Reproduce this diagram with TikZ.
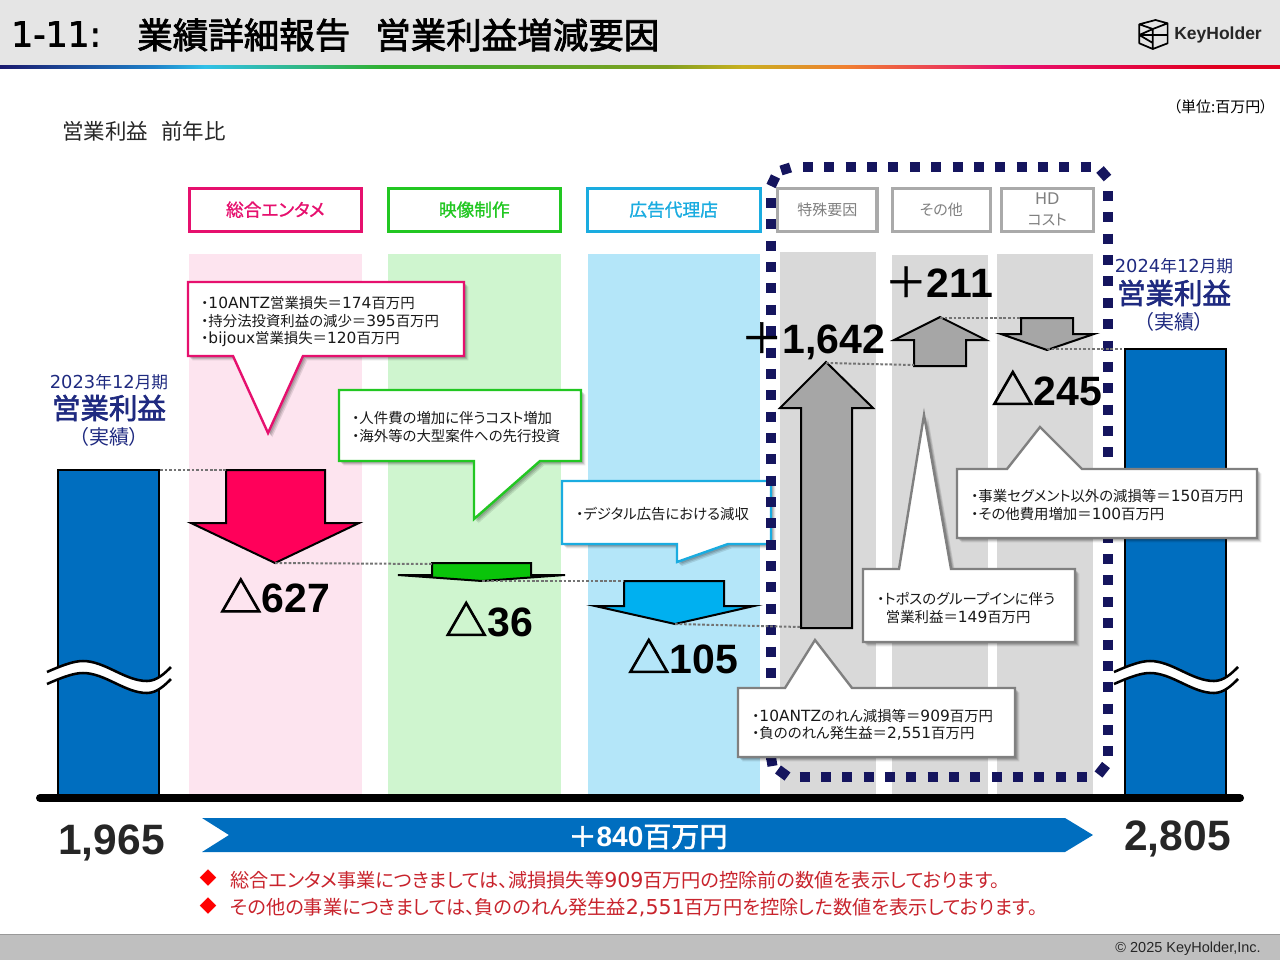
\documentclass[tikz,border=0pt]{standalone}
\usepackage{fontspec}
\usetikzlibrary{shadows}
\setmainfont{Noto Sans CJK JP}[RawFeature=+palt]
\newfontfamily\numf{Liberation Sans}
\newfontfamily\cjkf{Noto Sans CJK JP}
\newfontfamily\latf{DejaVu Sans}[Scale=1.07]
\newfontfamily\titlelat{DejaVu Sans}[FakeBold=2]
\newfontfamily\medf{Noto Sans CJK JP}[RawFeature=+palt,FakeBold=2.2]
\newfontfamily\lightbf{Noto Sans CJK JP}[RawFeature=+palt,FakeBold=1.2]
\newfontfamily\triaf{Noto Sans CJK JP}[FakeBold=2.5]
\newfontfamily\plusf{Noto Sans CJK JP}[FakeBold=1]
\newcommand{\la}[1]{{\latf #1}}
\newcommand{\fpx}[2]{\fontsize{\dimexpr #1pt*3/4\relax}{\dimexpr #2pt*3/4\relax}\selectfont}
\newcommand{\minusv}[1]{{\fpx{42}{46}\triaf △}{\fpx{41}{46}\numf\bfseries #1}}
\newcommand{\plusv}[1]{{\fpx{42}{46}\plusf ＋}{\fpx{41}{46}\numf\bfseries #1}}
\definecolor{rb0}{HTML}{1A1A6E}
\definecolor{rb1}{HTML}{1E80C8}
\definecolor{rb2}{HTML}{30C0E8}
\definecolor{rb3}{HTML}{30B030}
\definecolor{rb4}{HTML}{80A020}
\definecolor{rb5}{HTML}{C8B020}
\definecolor{rb6}{HTML}{F08030}
\definecolor{rb7}{HTML}{E81070}
\definecolor{rb8}{HTML}{E00020}
\pgfdeclarehorizontalshading{rainbowline}{100bp}{
 color(0bp)=(rb0);
 color(25bp)=(rb0);
 color(31bp)=(rb1);
 color(33bp)=(rb2);
 color(40bp)=(rb3);
 color(51bp)=(rb4);
 color(54bp)=(rb5);
 color(58bp)=(rb6);
 color(64.5bp)=(rb7);
 color(72.5bp)=(rb8);
 color(100bp)=(rb8)}
\definecolor{cpink}{HTML}{E6106E}
\definecolor{cgreen}{HTML}{22C722}
\definecolor{cblue}{HTML}{1AACE0}
\definecolor{cgrayb}{HTML}{AAAAAA}
\definecolor{cgraye}{HTML}{808080}
\definecolor{navy}{HTML}{15155E}
\definecolor{ctitle}{HTML}{1F2A80}
\definecolor{barb}{HTML}{006EBF}
\definecolor{cnote}{HTML}{C8232C}
\definecolor{colpink}{HTML}{FDE4EF}
\definecolor{colgreen}{HTML}{CFF5CF}
\definecolor{colblue}{HTML}{B4E6F9}
\definecolor{arrpink}{HTML}{FF005A}
\definecolor{arrgreen}{HTML}{0AC40A}
\definecolor{arrblue}{HTML}{00B0F0}
\tikzset{
 x=0.75pt,y=-0.75pt,
 hdrbox/.style={draw=#1,line width=2.4pt,fill=white,inner sep=0pt,anchor=north west},
 bar/.style={fill=barb,draw=black,line width=1.5pt},
 bigarrow/.style={fill=#1,draw=black,line width=1.5pt,line join=miter},
 callout/.style={draw=#1,fill=white,line width=1.8pt,line join=miter,
   general shadow={shadow xshift=3.2pt,shadow yshift=-3.2pt,opacity=.1,fill=black},
   general shadow={shadow xshift=2.4pt,shadow yshift=-2.4pt,opacity=.12,fill=black},
   general shadow={shadow xshift=1.6pt,shadow yshift=-1.6pt,opacity=.14,fill=black}},
 calltext/.style={anchor=west,align=left,inner sep=0pt,font=\fpx{14.4}{17.5},text=black!90},
 guide/.style={draw=black!55,line width=1.5pt,dash pattern=on 2pt off 1.4pt},
 num/.style={inner sep=0pt,anchor=center},
 wave/.style={draw=black,line width=1.9pt},
 framebit/.style={draw=navy,line width=7.5pt},
 framedash/.style={framebit,dash pattern=on 7.5pt off 8.52pt},
}
\newcommand{\wavebreak}{%
 \fill[white] (47,672) .. controls (65,664) and (75,661) .. (83,661) .. controls (105,661) and (125,681) .. (147,681) .. controls (157,681) and (165,673) .. (171,667)
   -- (171,679) .. controls (165,685) and (157,693) .. (147,693) .. controls (125,693) and (105,673) .. (83,673) .. controls (75,673) and (65,676) .. (47,684) -- cycle;
 \draw[wave] (47,672) .. controls (65,664) and (75,661) .. (83,661) .. controls (105,661) and (125,681) .. (147,681) .. controls (157,681) and (165,673) .. (171,667);
 \draw[wave] (47,684) .. controls (65,676) and (75,673) .. (83,673) .. controls (105,673) and (125,693) .. (147,693) .. controls (157,693) and (165,685) .. (171,679);
}
\begin{document}
\begin{tikzpicture}
\useasboundingbox (0,0) rectangle (1280,960);
% header and footer
\fill[black!10] (0,0) rectangle (1280,66);
\shade[shading=rainbowline] (0,65.5) rectangle (1280,68);
\fill[black!25] (0,935) rectangle (1280,960);
\draw[black!40,line width=.8pt] (0,934.5) -- (1280,934.5);
\node[anchor=west,inner sep=0pt,font=\fpx{34.5}{42}\titlelat] (titlea) at (11,34) {1-11:};
\node[anchor=west,inner sep=0pt,font=\fpx{35.5}{40}\medf] (titleb) at (137,35) {業績詳細報告};
\node[anchor=west,inner sep=0pt,font=\fpx{35.5}{40}\medf] (titlec) at (375,35) {営業利益増減要因};
\node[anchor=west,inner sep=0pt,font=\fpx{17.5}{20}\numf\bfseries,text=black!85] (brand) at (1174,34.5) {KeyHolder};
\draw[black,line width=1.3pt,line join=round] (1139.3,24.3) -- (1155.5,20) -- (1167.6,23.3) -- (1167.6,43.3) -- (1152.8,49) -- (1139.3,43.3) -- cycle
  (1139.3,24.3) -- (1152.8,29) -- (1167.6,23.3) (1152.8,29) -- (1152.8,49) (1139.3,35) -- (1167.6,35)
  (1139.3,35) -- (1152.8,29) (1139.3,35) -- (1152.8,43);
\node[anchor=east,inner sep=0pt,font=\fpx{14.5}{16}\numf,text=black!85] (copy) at (1261,948.5) {© 2025 KeyHolder,Inc.};
\node[anchor=east,inner sep=0pt,font=\fpx{15}{16}] (unit) at (1268,107) {（単位:百万円）};
\node[anchor=west,inner sep=0pt,font=\fpx{21.5}{24},text=black!85] (sub) at (62,131) {営業利益\hspace{0.6em}前年比};
% columns
\fill[colpink] (189,254) rectangle (362,795);
\fill[colgreen] (388,254) rectangle (561,795);
\fill[colblue] (588,254) rectangle (760,795);
\fill[black!15] (780,252) rectangle (876,795);
\fill[black!15] (892,255) rectangle (988,795);
\fill[black!15] (997,254) rectangle (1093,795);
% headers
\node[hdrbox=cpink,minimum width=129.3pt,minimum height=32.3pt,text=cpink,font=\fpx{17.7}{20}\lightbf] (h1) at (187.5,186.5) {総合エンタメ};
\node[hdrbox=cgreen,minimum width=129.3pt,minimum height=32.3pt,text=cgreen,font=\fpx{17.7}{20}\lightbf] (h2) at (386.5,186.5) {映像制作};
\node[hdrbox=cblue,minimum width=129.8pt,minimum height=32.3pt,text=cblue,font=\fpx{17.7}{20}\lightbf] (h3) at (585.5,186.5) {広告代理店};
\node[hdrbox=cgrayb,minimum width=74.5pt,minimum height=32.3pt,text=cgraye,font=\fpx{15}{20}] (h4) at (776,186.5) {特殊要因};
\node[hdrbox=cgrayb,minimum width=73.8pt,minimum height=32.3pt,text=cgraye,font=\fpx{15}{20}] (h5) at (890.5,186.5) {その他};
\node[hdrbox=cgrayb,minimum width=69.2pt,minimum height=32.3pt,text=cgraye,font=\fpx{15}{21},align=center] (h6) at (999.5,186.5) {\la{HD}\\コスト};
% bars
\draw[bar] (58,469.5) rectangle (159,797);
\draw[bar] (1124.5,349) rectangle (1225.5,797);
\draw[black,line width=6pt,line cap=round] (40,798) -- (1240,798);
% coloured callouts
\draw[callout=cpink] (188,282) -- (464,282) -- (464,356) -- (303,356) -- (268,433) -- (233,356) -- (188,356) -- cycle;
\node[calltext] (t1) at (201,322) {・\la{10ANTZ}営業損失＝\la{174}百万円\\・持分法投資利益の減少＝\la{395}百万円\\・\la{bijoux}営業損失＝\la{120}百万円};
\draw[callout=cgreen] (339,390) -- (581,390) -- (581,461) -- (540,461) -- (474,519) -- (474,461) -- (339,461) -- cycle;
\node[calltext] (t2) at (352,427) {・人件費の増加に伴うコスト増加\\・海外等の大型案件への先行投資};
\draw[callout=cblue] (562,481) -- (771,481) -- (771,544) -- (728,544) -- (677,562) -- (677,544) -- (562,544) -- cycle;
\node[calltext] (t3) at (576,514) {・デジタル広告における減収};
% dotted frame
\draw[framedash] (803,166.5) -- (1091,166.5);
\draw[framedash] (1108,191) -- (1108,756);
\draw[framedash] (799.5,776.5) -- (1087,776.5);
\draw[framedash] (771,198) -- (771,760);
\draw[framebit] (771,186) -- (775.5,176.5);
\draw[framebit] (781,170.5) -- (790.5,167.5);
\draw[framebit] (1100,169.5) -- (1107.5,178);
\draw[framebit] (1106,765) -- (1098.5,774.5);
\draw[framebit] (778,769.5) -- (787.5,776.5);
\draw[framebit] (771,757) -- (772.5,766);
% arrows
\draw[bigarrow=black!35] (801,628) -- (852,628) -- (852,408) -- (873,408) -- (826,362) -- (780,408) -- (801,408) -- cycle;
\draw[bigarrow=black!35] (914,366) -- (966,366) -- (966,340) -- (986,340) -- (940,317) -- (894,340) -- (914,340) -- cycle;
\draw[bigarrow=black!35] (1021,318) -- (1073,318) -- (1073,334) -- (1094,334) -- (1047,350) -- (1001,334) -- (1021,334) -- cycle;
\draw[bigarrow=arrpink] (226,470) -- (325,470) -- (325,523) -- (359,523) -- (275,563) -- (191,523) -- (226,523) -- cycle;
\draw[bigarrow=arrgreen] (432,563) -- (531,563) -- (531,575) -- (565,575) -- (482,581) -- (398,575) -- (432,575) -- cycle;
\draw[bigarrow=arrblue] (624,581) -- (724,581) -- (724,606) -- (754,606) -- (675,624) -- (595,606) -- (624,606) -- cycle;
% guide lines
\coordinate (g1a) at (160,469.5); \coordinate (g1b) at (226,469.5);
\coordinate (g2a) at (275,563); \coordinate (g2b) at (432,564);
\coordinate (g3a) at (482,581); \coordinate (g3b) at (624,581);
\coordinate (g4a) at (675,624); \coordinate (g4b) at (801,627);
\coordinate (g5a) at (826,363); \coordinate (g5b) at (914,365);
\coordinate (g6a) at (940,318); \coordinate (g6b) at (1021,318);
\coordinate (g7a) at (1047,349); \coordinate (g7b) at (1124,349);
\foreach \k in {1,...,7}{\draw[guide] (g\k a) -- (g\k b);}
% grey callouts
\draw[callout=cgraye] (738,688) -- (785,688) -- (815,640) -- (852,688) -- (1015,688) -- (1015,757) -- (738,757) -- cycle;
\node[calltext] (t4) at (752,725) {・\la{10ANTZ}のれん減損等＝\la{909}百万円\\・負ののれん発生益＝\la{2,551}百万円};
\draw[callout=cgraye] (863,569) -- (899,569) -- (924,415) -- (951,569) -- (1075,569) -- (1075,642) -- (863,642) -- cycle;
\node[calltext] (t5) at (877,608) {・トポスのグループインに伴う\\\hspace{0.6em}営業利益＝\la{149}百万円};
\draw[callout=cgraye] (957,469) -- (1007,469) -- (1040,427) -- (1082,469) -- (1257,469) -- (1257,538) -- (957,538) -- cycle;
\node[calltext] (t6) at (971,505) {・事業セグメント以外の減損等＝\la{150}百万円\\・その他費用増加＝\la{100}百万円};
% wave breaks
\wavebreak
\begin{scope}[shift={(1067,0)}]\wavebreak\end{scope}
% period labels
\node[num,text=ctitle,font=\fpx{16.7}{20}] (p1) at (109,382.5) {\la{2023}年\la{12}月期};
\node[num,text=ctitle,font=\fpx{28.5}{32}\medf] (p2) at (109,408) {営業利益};
\node[num,text=ctitle,font=\fpx{20}{22}] (p3) at (109,437) {（実績）};
\node[num,text=ctitle,font=\fpx{16.7}{20}] (p4) at (1174,266.5) {\la{2024}年\la{12}月期};
\node[num,text=ctitle,font=\fpx{28.5}{32}\medf] (p5) at (1174,293) {営業利益};
\node[num,text=ctitle,font=\fpx{20}{22}] (p6) at (1174,322) {（実績）};
% values
\node[num] (v1) at (275,595.5) {\minusv{627}};
\node[num] (v2) at (489,619) {\minusv{36}};
\node[num] (v3) at (683,656) {\minusv{105}};
\node[num] (v4) at (813,341) {\plusv{1,642}};
\node[num] (v5) at (939,282) {\plusv{211}};
\node[num] (v6) at (1047,388) {\minusv{245}};
\node[num,text=black!85,font=\fpx{42.5}{46}\numf\bfseries] (n1) at (111.5,843) {1,965};
\node[num,text=black!85,font=\fpx{42.5}{46}\numf\bfseries] (n2) at (1177.5,839) {2,805};
% bottom arrow
\fill[barb] (202,818) -- (1065,818) -- (1093,835) -- (1065,852) -- (202,852) -- (229,835) -- cycle;
\node[num,text=white,font=\fpx{28}{30}\medf] (tot) at (648,837) {＋{\numf\bfseries 840}百万円};
% notes
\node[num,text=red,font=\fpx{17}{22}\cjkf] (m1) at (208,878.5) {◆};
\node[num,text=red,font=\fpx{17}{22}\cjkf] (m2) at (208,906) {◆};
\node[anchor=west,inner sep=0pt,text=cnote,font=\fpx{19.2}{22}] (note1) at (230,880) {総合エンタメ事業につきましては、減損損失等\la{909}百万円の控除前の数値を表示しております。};
\node[anchor=west,inner sep=0pt,text=cnote,font=\fpx{19.2}{22}] (note2) at (230,907.5) {その他の事業につきましては、負ののれん発生益\la{2,551}百万円を控除した数値を表示しております。};
\end{tikzpicture}
\end{document}
